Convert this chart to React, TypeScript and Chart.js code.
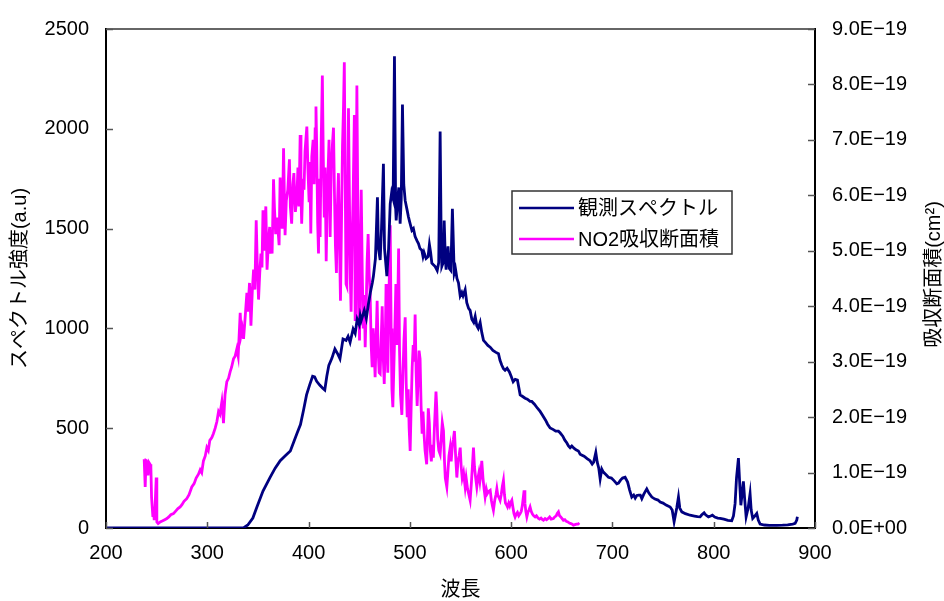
import React, { useEffect, useRef } from "react";
import { Chart, registerables } from "chart.js";

Chart.register(...registerables);

// 観測スペクトル: wavelength (nm) and intensity (a.u.)
const specWavelength = [
  200, 250, 300, 330, 336, 340, 345, 349, 355, 362, 367, 372, 377, 382, 386, 389, 392, 395, 398, 401,
  404, 406, 408, 411, 414, 416, 418, 420, 423, 426, 429, 431, 434, 437, 439, 441, 444, 446, 448, 450,
  451, 452, 455, 457, 459, 461, 463, 464, 466, 468, 469, 470.7, 472, 473.9, 475, 477.3, 479, 480.6, 482, 483.5,
  484.8, 486, 486.5, 488, 489.1, 490.4, 491.5, 492.7, 494, 495.4, 497, 498.6, 500, 502, 503.5, 505.2, 507, 508.5, 510, 511.8,
  513, 514, 516, 518, 519.3, 520.5, 521.7, 523, 525, 527, 528.5, 529.9, 531, 531.6, 533, 533.9, 535, 535.8, 537.7, 539,
  540.5, 542, 543.8, 545, 546.5, 548, 549.7, 551.3, 552.5, 554.6, 556.2, 558, 559.5, 561.2, 563, 564.5, 566.1, 567.5, 569.4, 571,
  572.7, 574.3, 577, 579.3, 582, 585, 587.5, 589, 590.8, 592.4, 594, 596, 598.3, 600, 602, 604, 606.2, 608.9, 611, 613.8,
  616, 618.7, 620.4, 623, 626, 628.6, 631, 634, 636, 638.5, 641.7, 644, 646.7, 648.3, 651, 653, 654.9, 656.6, 658.2, 659.9,
  662, 664, 666.4, 668.1, 670, 672, 675, 677.9, 680, 681.5, 683.6, 685, 686.5, 687.9, 689.5, 691, 693, 696.1, 699, 702,
  704.3, 706, 708, 710, 712.5, 715, 717, 719.1, 721, 722.5, 724.1, 726, 727.5, 729, 731, 733.9, 736, 738.9, 742, 745,
  747.1, 750, 753, 757, 759, 760.9, 762, 763.5, 765.2, 766.5, 768.5, 772, 776.7, 781, 784, 786.6, 788, 790.5, 792, 794.8,
  797, 798.7, 801, 804, 806.3, 810, 814, 817.8, 819.5, 821.1, 822.5, 824.4, 825.5, 826.8, 828, 829.3, 830.5, 832, 834, 835.9,
  837, 838.5, 840.5, 842.5, 844, 845.8, 850, 855, 862.3, 868, 873, 878, 880.4, 882, 882.6,
];
const specIntensity = [
  0, 0, 0, 0, 2, 15, 50, 105, 185, 254, 300, 337, 362, 386, 440, 480, 518, 590, 667, 716,
  760, 757, 735, 716, 700, 691, 760, 815, 850, 897, 870, 848, 947, 940, 960, 930, 997, 975, 1046, 1020,
  1063, 1040, 1090, 1050, 1120, 1180, 1230, 1261, 1350, 1657, 1400, 1343, 1500, 1825, 1400, 1262, 1400, 1624, 1680, 1650,
  2363, 1600, 1541, 1650, 1706, 1525, 1650, 2122, 1720, 1640, 1600, 1559, 1530, 1491, 1500, 1460, 1440, 1425, 1400, 1392,
  1360, 1380, 1350, 1360, 1420, 1380, 1327, 1320, 1310, 1290, 1330, 1987, 1400, 1311, 1330, 1541, 1350, 1294, 1411, 1300,
  1290, 1599, 1277, 1300, 1250, 1228, 1163, 1180, 1163, 1194, 1129, 1100, 1090, 1046, 1030, 1060, 1013, 1000, 1030, 980,
  940, 931, 915, 906, 890, 880, 873, 840, 815, 798, 790, 800, 782, 760, 733, 745, 741, 667, 660, 650,
  645, 634, 634, 620, 600, 584, 565, 540, 520, 501, 493, 485, 485, 477, 460, 440, 427, 411, 402, 411,
  400, 392, 386, 370, 365, 360, 348, 337, 320, 330, 378, 330, 300, 246, 295, 280, 270, 254, 250, 235,
  221, 225, 240, 250, 254, 230, 190, 155, 165, 150, 163, 165, 165, 147, 170, 196, 175, 155, 145, 140,
  130, 125, 115, 105, 90, 31, 60, 100, 155, 100, 81, 72, 64, 60, 57, 56, 65, 76, 66, 56,
  60, 64, 55, 50, 48, 44, 38, 36, 60, 122, 250, 350, 240, 114, 170, 234, 150, 56, 100, 172,
  90, 48, 60, 73, 40, 20, 15, 13, 13, 14, 16, 20, 23, 40, 56,
];

// NO2吸収断面積: wavelength (nm) and cross section in units of 1E-19 cm²
const no2Wavelength = [
  237.7, 238.7, 239.5, 240.4, 241.5, 242.5, 243.5, 244.3, 245, 246.3, 247, 247.6, 248.5, 249.6, 250.2, 251.5, 253.5, 256, 258, 260.1,
  262, 264, 266.6, 269, 271, 273.2, 275, 277, 279.7, 282, 284.7, 287, 289, 291.3, 293, 294.5, 296.2, 298, 299.6, 301,
  302.5, 304.5, 306, 307.8, 309.5, 311.1, 312.5, 314.4, 315.2, 316, 317.5, 319.3, 321, 322.6, 324, 325.9, 327.5, 329.2, 330.5, 332.5,
  333.5, 334.5, 335.8, 337, 339.1, 340, 341.7, 343.1, 344.5, 345.7, 347, 348.3, 349.3, 350.6, 351.8, 353, 354, 355, 356, 357.8,
  359, 360.5, 361.6, 362, 363, 364, 365.4, 366.3, 367.5, 369, 370.9, 371.9, 373, 374, 375.3, 376.8, 378, 379.5, 381.1, 382,
  383.3, 384.5, 385.5, 387, 388.5, 389.5, 390.5, 391.7, 392.5, 393.2, 394.5, 395.5, 396.5, 398.3, 399.5, 400.5, 401.2, 402.2, 403.2, 404.5,
  405.5, 406.5, 407.3, 408, 409, 409.8, 410.6, 411.4, 412.5, 413.6, 414.5, 415.5, 416.3, 417.4, 418.3, 419.2, 420.2, 421.3, 422.4, 423.5,
  424.6, 425.5, 426.5, 427.5, 428.5, 429.5, 430.5, 431.5, 432.5, 433.5, 434.5, 435.3, 436.2, 437, 437.8, 438.6, 439.4, 440.3, 441.2, 442,
  443, 444, 445.2, 446, 446.8, 447.7, 448.6, 449.5, 450.3, 451.2, 452, 453, 454, 455, 455.9, 456.8, 457.8, 458.8, 459.8, 460.8,
  461.8, 462.8, 463.8, 464.8, 465.7, 466.7, 467.7, 468.7, 469.7, 470.7, 471.7, 472.7, 473.7, 474.7, 475.7, 476.5, 477.3, 478.2, 479.2, 480.6,
  481.5, 482.3, 483.2, 484.2, 485.2, 486.2, 487.2, 488.2, 488.9, 489.8, 490.8, 492.1, 493.2, 494.2, 495.4, 496.4, 497.4, 498.4, 499.3, 500.3,
  501.3, 502.3, 503.3, 504.2, 505.2, 506.2, 507.2, 508.2, 509.1, 510.1, 511.1, 512.1, 513, 514, 515, 516.6, 517.5, 518.2, 519.2, 520.2,
  521.2, 522.2, 523.2, 524.2, 525.8, 526.5, 527.5, 528.6, 529.9, 530.9, 532, 533.2, 534.2, 535, 536.5, 537.5, 538.6, 539.8, 540.8, 542,
  543, 544, 545.2, 546.4, 547.5, 548.6, 549.7, 550.7, 551.7, 553, 554.6, 555.6, 557, 558.3, 559.5, 560.7, 561.7, 562.8, 563.8, 565,
  566.1, 567.2, 568.2, 569.2, 570.2, 571, 572.2, 573.3, 574.3, 575.5, 576.5, 577.8, 579.3, 580.5, 581.5, 582.5, 583.8, 585, 585.9, 586.9,
  588, 589.1, 590.2, 591.3, 592.4, 593.4, 594.4, 595.4, 596.4, 597.6, 598.6, 599.6, 600.7, 601.7, 602.8, 603.9, 605, 606.2, 607.5, 608.9,
  610, 611, 612, 612.8, 613.6, 614.5, 615.5, 616.5, 617.5, 618.7, 619.8, 621, 622.3, 623.7, 625, 626.5, 628, 629.5, 631, 631.9,
  633.5, 635, 636.5, 638, 639.5, 641.7, 643, 644.5, 645.5, 646.7, 647.8, 649, 650.3, 651.6, 653, 654.5, 656, 657.5, 659, 660.3,
  661.5, 663, 664.5, 666, 667.4,
];
const no2CrossSection = [
  1.24, 0.74, 1.22, 1.21, 0.95, 1.18, 1.15, 1.1, 0.55, 0.2, 0.3, 0.14, 0.4, 0.91, 0.11, 0.08, 0.11, 0.13, 0.15, 0.17,
  0.2, 0.24, 0.26, 0.31, 0.35, 0.38, 0.42, 0.48, 0.53, 0.6, 0.74, 0.8, 0.9, 0.97, 1.05, 1.0, 1.21, 1.3, 1.45, 1.4,
  1.58, 1.63, 1.7, 1.8, 1.92, 2.1, 2.05, 2.28, 2.1, 1.89, 2.4, 2.64, 2.7, 2.82, 2.9, 3.05, 3.1, 3.23, 3.1, 3.88,
  3.5, 3.6, 3.41, 3.7, 4.24, 3.9, 4.42, 3.65, 4.3, 4.66, 4.3, 5.55, 4.8, 4.12, 4.6, 4.95, 4.7, 5.73, 5.0, 5.8,
  4.66, 5.2, 5.43, 4.95, 5.1, 4.95, 6.29, 5.78, 5.3, 5.6, 5.1, 6.32, 5.6, 5.4, 6.85, 5.28, 5.9, 6.1, 6.65, 5.8,
  5.49, 6.2, 6.4, 5.7, 6.0, 6.5, 5.8, 7.09, 6.0, 5.49, 6.3, 6.1, 6.8, 7.24, 6.4, 5.9, 6.6, 5.31, 6.7, 7.0,
  6.2, 7.2, 7.6, 6.9, 5.5, 4.95, 6.3, 5.25, 7.0, 8.16, 6.7, 5.6, 6.5, 4.81, 5.8, 6.4, 7.0, 5.25, 6.5, 6.9,
  7.22, 6.1, 5.1, 4.6, 5.8, 6.4, 5.2, 4.1, 5.5, 6.9, 7.6, 8.4, 6.2, 4.4, 4.36, 5.6, 7.57, 6.0, 4.5, 3.9,
  5.2, 6.0, 7.45, 3.76, 5.5, 7.98, 5.8, 4.2, 3.38, 5.0, 6.1, 4.6, 3.6, 4.2, 3.26, 3.9, 4.8, 5.3, 4.6, 4.22,
  3.3, 2.9, 3.6, 3.2, 2.72, 3.4, 4.1, 3.2, 2.8, 2.78, 3.4, 4.0, 3.1, 2.6, 3.3, 4.4, 3.62, 2.8, 4.0, 5.46,
  3.6, 2.5, 2.18, 2.9, 3.6, 4.4, 3.3, 4.2, 5.04, 3.2, 2.4, 2.04, 2.8, 3.4, 3.8, 2.6, 2.0, 2.5, 1.8, 1.39,
  2.2, 2.9, 3.3, 3.0, 3.85, 2.8, 2.2, 2.7, 3.2, 3.05, 2.2, 1.7, 2.1, 1.69, 1.4, 1.15, 1.7, 2.16, 1.9, 1.4,
  1.2, 1.5, 1.27, 1.8, 2.46, 2.2, 1.6, 1.4, 1.33, 1.6, 1.9, 1.75, 1.2, 0.9, 0.74, 1.0, 1.3, 1.45, 1.2, 1.5,
  1.6, 1.75, 1.3, 0.91, 1.2, 1.3, 1.45, 1.1, 0.9, 1.0, 0.74, 0.9, 0.7, 0.6, 0.5, 0.8, 1.1, 1.45, 1.1, 0.9,
  0.74, 0.9, 1.0, 0.85, 1.0, 1.21, 0.9, 0.7, 0.56, 0.7, 0.62, 0.66, 0.68, 0.5, 0.4, 0.32, 0.5, 0.6, 0.71, 0.58,
  0.55, 0.5, 0.6, 0.75, 0.86, 0.6, 0.45, 0.42, 0.38, 0.45, 0.4, 0.46, 0.5, 0.38, 0.26, 0.2, 0.25, 0.28, 0.22, 0.26,
  0.3, 0.4, 0.55, 0.68, 0.45, 0.3, 0.2, 0.28, 0.32, 0.38, 0.3, 0.25, 0.22, 0.2, 0.22, 0.18, 0.16, 0.18, 0.15, 0.14,
  0.17, 0.15, 0.17, 0.2, 0.16, 0.17, 0.2, 0.22, 0.26, 0.29, 0.22, 0.2, 0.17, 0.14, 0.15, 0.12, 0.11, 0.09, 0.08, 0.07,
  0.05, 0.06, 0.07, 0.07, 0.09,
];

const leftTickLabels = ["0", "500", "1000", "1500", "2000", "2500"];
const xTickLabels = ["200", "300", "400", "500", "600", "700", "800", "900"];
const rightTickLabels = [
  "0.0E+00", "1.0E−19", "2.0E−19", "3.0E−19", "4.0E−19",
  "5.0E−19", "6.0E−19", "7.0E−19", "8.0E−19", "9.0E−19",
];

const seriesNames = ["観測スペクトル", "NO2吸収断面積"];
const xTitle = "波長";
const yLeftTitle = "スペクトル強度(a.u)";
const yRightTitle = "吸収断面積(cm²)";

const FONT = '"Liberation Sans", "Noto Sans CJK JP", sans-serif';
const NAVY = "#000080";
const MAGENTA = "#FF00FF";

const framePlugin = {
  id: "frame",
  afterDraw(chart: any) {
    const { ctx, chartArea: a, scales } = chart;
    const line = (x1: number, y1: number, x2: number, y2: number) => {
      ctx.beginPath();
      ctx.moveTo(x1, y1);
      ctx.lineTo(x2, y2);
      ctx.stroke();
    };
    ctx.save();
    // top border
    ctx.strokeStyle = "#333";
    ctx.lineWidth = 1.5;
    line(a.left, a.top, a.right, a.top);
    // inward ticks
    ctx.strokeStyle = "#555";
    ctx.lineWidth = 1.5;
    scales.y.ticks.forEach((t: any) => {
      const y = Math.round(scales.y.getPixelForValue(t.value)) + 0.5;
      line(a.left, y, a.left + 7, y);
    });
    scales.y2.ticks.forEach((t: any) => {
      const y = Math.round(scales.y2.getPixelForValue(t.value)) + 0.5;
      line(a.right - 7, y, a.right, y);
    });
    scales.x.ticks.forEach((t: any) => {
      const x = Math.round(scales.x.getPixelForValue(t.value)) + 0.5;
      line(x, a.bottom, x, a.bottom - 6);
    });

    // axis titles
    ctx.fillStyle = "#000";
    ctx.font = `20px ${FONT}`;
    ctx.textAlign = "center";
    ctx.textBaseline = "middle";
    ctx.fillText(xTitle, (a.left + a.right) / 2, 590);

    ctx.save();
    ctx.translate(20, (a.top + a.bottom) / 2);
    ctx.rotate(-Math.PI / 2);
    ctx.fillText(yLeftTitle, 0, 0);
    ctx.restore();

    ctx.save();
    ctx.translate(934, (a.top + a.bottom) / 2 - 4);
    ctx.rotate(-Math.PI / 2);
    ctx.fillText(yRightTitle, 0, 0);
    ctx.restore();

    // legend
    const bx = 512, by = 191, bw = 220, bh = 63;
    ctx.fillStyle = "#fff";
    ctx.fillRect(bx, by, bw, bh);
    ctx.strokeStyle = "#333";
    ctx.lineWidth = 1.5;
    ctx.strokeRect(bx, by, bw, bh);
    const rows = [208, 239];
    chart.data.datasets.forEach((ds: any, i: number) => {
      ctx.strokeStyle = ds.borderColor;
      ctx.lineWidth = 2.5;
      line(bx + 7, rows[i], bx + 62, rows[i]);
      ctx.fillStyle = "#000";
      ctx.textAlign = "left";
      ctx.textBaseline = "middle";
      ctx.font = `20px ${FONT}`;
      ctx.fillText(ds.label, bx + 66, rows[i] + 1);
    });
    ctx.restore();
  },
};

export default function App() {
  const ref = useRef<HTMLCanvasElement | null>(null);

  useEffect(() => {
    if (!ref.current) return;
    const specData = specWavelength.map((x, i) => ({ x, y: specIntensity[i] }));
    const no2Data = no2Wavelength.map((x, i) => ({ x, y: no2CrossSection[i] }));
    const chart = new Chart(ref.current, {
      type: "line",
      data: {
        datasets: [
          {
            label: seriesNames[0],
            data: specData,
            borderColor: NAVY,
            backgroundColor: NAVY,
            borderWidth: 2.8,
            pointRadius: 0,
            tension: 0,
            yAxisID: "y",
          },
          {
            label: seriesNames[1],
            data: no2Data,
            borderColor: MAGENTA,
            backgroundColor: MAGENTA,
            borderWidth: 2.8,
            pointRadius: 0,
            tension: 0,
            yAxisID: "y2",
          },
        ],
      },
      options: {
        responsive: false,
        animation: false,
        layout: { padding: { top: 23, left: 0, right: 0, bottom: 0 } },
        plugins: { legend: { display: false }, tooltip: { enabled: false } },
        scales: {
          x: {
            type: "linear",
            min: 200,
            max: 900,
            afterFit: (s: any) => {
              s.height = 73;
            },
            ticks: {
              stepSize: 100,
              color: "#000",
              font: { size: 20, family: FONT },
              padding: 13,
              maxRotation: 0,
              callback: (_v: any, i: number) => xTickLabels[i],
            },
            grid: { display: false, drawTicks: false },
            border: { display: true, color: "#000", width: 2 },
          },
          y: {
            type: "linear",
            position: "left",
            min: 0,
            max: 2500,
            afterFit: (s: any) => {
              s.width = 106;
            },
            ticks: {
              stepSize: 500,
              color: "#000",
              font: { size: 20, family: FONT },
              padding: 17,
              callback: (_v: any, i: number) => leftTickLabels[i],
            },
            grid: { display: false, drawTicks: false },
            border: { display: true, color: "#000", width: 2 },
          },
          y2: {
            type: "linear",
            position: "right",
            min: 0,
            max: 9,
            afterFit: (s: any) => {
              s.width = 129;
            },
            ticks: {
              stepSize: 1,
              color: "#000",
              font: { size: 20, family: FONT },
              padding: 17,
              callback: (_v: any, i: number) => rightTickLabels[i],
            },
            grid: { display: false, drawTicks: false },
            border: { display: true, color: "#000", width: 2 },
          },
        },
      },
      plugins: [framePlugin],
    });
    return () => chart.destroy();
  }, []);

  return (
    <div style={{ position: "absolute", left: 0, top: 0, width: 944, height: 601, background: "#fff" }}>
      <canvas ref={ref} width={944} height={601} style={{ display: "block" }} />
    </div>
  );
}
